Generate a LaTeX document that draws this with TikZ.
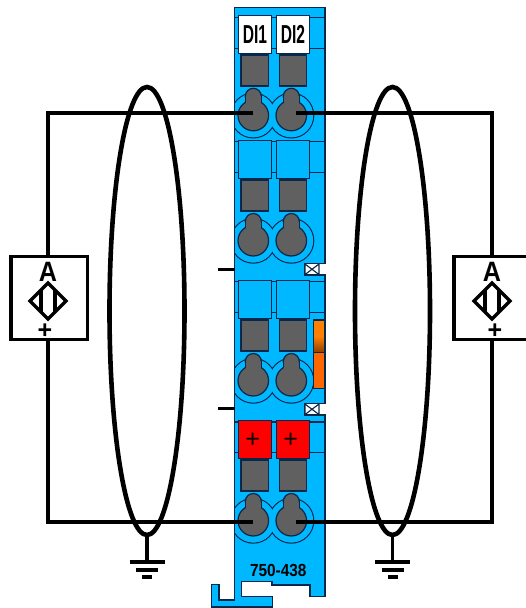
\documentclass[tikz,border=0pt]{standalone}
\usepackage{fontspec}
\setmainfont{Liberation Sans}
\usetikzlibrary{calc,shapes.geometric}
\definecolor{bodyblue}{RGB}{0,184,255}
\definecolor{edge}{RGB}{5,40,75}
\definecolor{metal}{RGB}{96,96,96}
\definecolor{orangeA}{RGB}{255,128,0}
\definecolor{orangeB}{RGB}{255,102,0}
\definecolor{brownB}{RGB}{140,60,0}
\tikzset{
  x=1pt,y=-1pt,
  wire/.style={draw=black,line width=3.3pt},
  thin edge/.style={draw=edge,line width=1.2pt},
  sensor/.style={draw=black,line width=3.3pt,fill=white,minimum width=76.5pt,minimum height=83pt,inner sep=0pt},
  shield/.style={draw=black,line width=4.6pt,ellipse,minimum width=75pt,minimum height=448pt,inner sep=0pt},
  module/.style={draw=edge,line width=1.4pt,minimum width=33.4pt,minimum height=38pt,inner sep=0pt},
  contact/.style={draw=edge,line width=1.2pt,fill=metal,minimum width=27.7pt,minimum height=31pt,inner sep=0pt},
  marking/.style={font=\bfseries\fontsize{26}{26}\selectfont},
  bar/.style={draw=black,line width=4pt},
}
\newcommand{\keyhole}[2]{%
  \draw[thin edge,fill=metal] (#1,#2) circle (15.3);
  \draw[thin edge,fill=metal] (#1,#2-19.2) circle (8);
  \fill[metal] (#1-7.4,#2-19.2) rectangle (#1+7.4,#2-8);
  \draw[thin edge] (#1-8,#2-19.2) -- (#1-8,#2-13) (#1+8,#2-19.2) -- (#1+8,#2-13);
}
\newcommand{\sensorsym}[3]{%
  \node[font=\bfseries\fontsize{28}{28}\selectfont,inner sep=0pt] (#3A) at (#1,#2+15) {\scalebox{.9}[1]{A}};
  \draw[black,line width=3.2pt,line join=miter] (#1-18,#2+44) -- (#1,#2+26) -- (#1+18,#2+44) -- (#1,#2+62) -- cycle;
  \draw[black,line width=3.2pt] (#1-7,#2+33) -- (#1-7,#2+55) (#1+7,#2+33) -- (#1+7,#2+55);
}
\begin{document}
\begin{tikzpicture}
\useasboundingbox (0,0) rectangle (526,608);
\coordinate (wTL) at (48,113);\coordinate (wBL) at (48,522);
\coordinate (wTR) at (492,113);\coordinate (wBR) at (492,522);
% body
\def\bodypath{(234.5,7.5) -- (325,7.5) -- (325,263.5) -- (304.5,263.5) -- (304.5,275) -- (325,275) -- (325,403.5) -- (304.5,403.5) -- (304.5,415) -- (325,415) -- (325,596.5) -- (310,596.5) -- (310,585) -- (272,585) -- (272,581.5) -- (241.5,581.5) -- (241.5,596.5) -- (272.5,596.5) -- (272.5,607) -- (211.5,607) -- (211.5,584.5) -- (219,584.5) -- (219,600) -- (234.5,600) -- cycle}
\fill[bodyblue] \bodypath;
\foreach \yy in {264,404}{
  \draw[edge,line width=1.1pt,fill=white] (305,\yy) -- (319,\yy+10.5) -- (319,\yy) -- (305,\yy+10.5) -- cycle;
}
\begin{scope}
\clip \bodypath;
\foreach \yy in {17.3,48.3,141.7,172.7,281.7,312.7,422,452.3}{
  \draw[thin edge] (234,\yy) -- (326,\yy);
}
\foreach \cy in {115.5,240.7,380.7,520.7}{
  \draw[thin edge] (253.3,\cy) circle (22.4) (291.3,\cy) circle (22.4);
  \fill[bodyblue] (253.3,\cy) circle (21.8) (291.3,\cy) circle (21.8);
}
\end{scope}
\draw[draw=edge,line width=1.8pt,line join=miter] \bodypath;
% labels and modules
\node[module,fill=white,marking] (di1) at (255,34.3) {\scalebox{.6}[1]{DI1}};
\node[module,fill=white,marking] (di2) at (293,34.3) {\scalebox{.6}[1]{DI2}};
\node[module,fill=bodyblue] (b1) at (255,159.3) {};
\node[module,fill=bodyblue] (b2) at (293,159.3) {};
\node[module,fill=bodyblue] (b3) at (255,299.3) {};
\node[module,fill=bodyblue] (b4) at (293,299.3) {};
\node[module,fill=red] (r1) at (255,439.2) {};
\node[module,fill=red] (r2) at (293,439.2) {};
\node[font=\fontsize{25}{25}\selectfont,inner sep=0pt] (p1) at (252.7,440.5) {+};
\node[font=\fontsize{25}{25}\selectfont,inner sep=0pt] (p2) at (290.7,440.5) {+};
% contacts
\foreach \cy in {70.5,195.5,335.4,475.4}{
  \node[contact] at (254.8,\cy) {};
  \node[contact] at (293,\cy) {};
}
\foreach \cy in {115.5,240.7,380.7,520.7}{
  \keyhole{253.3}{\cy}
  \keyhole{291.3}{\cy}
}
% status element
\fill[top color=orangeA,bottom color=brownB,middle color=orangeA] (313.7,320) rectangle (324.3,352.7);
\fill[orangeB] (313.7,352.7) rectangle (324.3,388.7);
\draw[thin edge] (313.7,320) rectangle (324.3,388.7);
\draw[thin edge] (313.7,352.7) -- (324.3,352.7);
% model number
\node[font=\bfseries\fontsize{17.5}{17.5}\selectfont,inner sep=0pt] (model) at (278.3,570) {\scalebox{.88}[1]{750-438}};
% ticks
\coordinate (t1) at (234.5,269.3);\coordinate (t2) at (234.5,408.7);
\draw[wire] (t1) -- ++(-17,0);
\draw[wire] (t2) -- ++(-17,0);
% sensors
\node[sensor] (sL) at (49.2,298.3) {};
\node[sensor,minimum width=90pt] (sR) at (499,298.3) {};
\sensorsym{48}{257}{L}
\sensorsym{492}{257}{R}
\node[font=\bfseries\fontsize{25}{25}\selectfont,inner sep=0pt] (pL) at (45,331) {+};
\node[font=\bfseries\fontsize{25}{25}\selectfont,inner sep=0pt] (pR) at (495,331) {+};
% wires
\coordinate (cTL) at (253.3,113);\coordinate (cBL) at (253.3,522);
\coordinate (cTR) at (296,113);\coordinate (cBR) at (296,522);
\draw[wire] (cTL) -- (wTL) -- (wTL |- sL.north);
\draw[wire] (cBL) -- (wBL) -- (wBL |- sL.south);
\draw[wire] (cTR) -- (wTR) -- (wTR |- sR.north);
\draw[wire] (cBR) -- (wBR) -- (wBR |- sR.south);
% shields
\node[shield] (eL) at (147,311) {};
\node[shield] (eR) at (392.5,311) {};
\foreach \g in {eL,eR}{
  \coordinate (g) at (\g.south);
  \draw[black,line width=3.6pt] (g) -- ++(0,25);
  \draw[bar] ($(g)+(-17.5,25)$) -- ++(35,0);
  \draw[bar] ($(g)+(-11,32.5)$) -- ++(22,0);
  \draw[bar] ($(g)+(-5,40)$) -- ++(10,0);
}
\end{tikzpicture}
\end{document}
